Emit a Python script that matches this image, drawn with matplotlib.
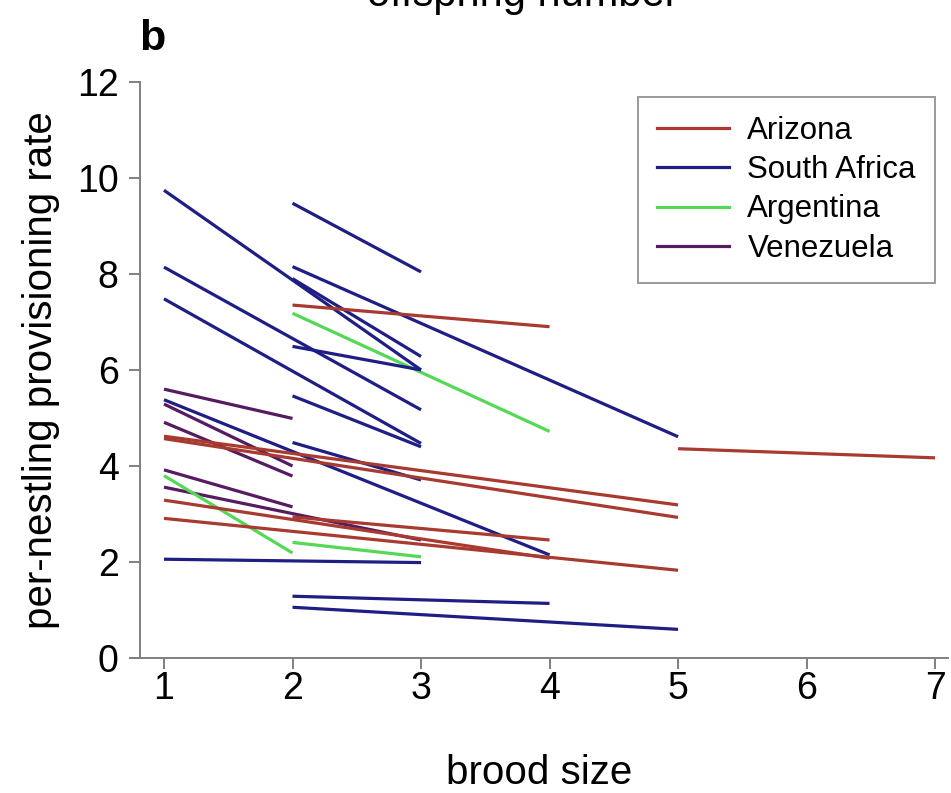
import matplotlib
matplotlib.use("Agg")
import matplotlib.pyplot as plt
from matplotlib.lines import Line2D

plt.rcParams['font.family'] = ['Liberation Sans', 'DejaVu Sans']

# ── data: each segment runs (x0, y0) -> (x1, y1) ──
arizona_x0 = [2, 5, 1, 1, 1, 1, 2]
arizona_x1 = [4, 7, 5, 5, 4, 5, 4]
arizona_y0 = [7.35, 4.36, 4.62, 4.57, 3.29, 2.91, 2.94]
arizona_y1 = [6.90, 4.17, 3.19, 2.93, 2.08, 1.83, 2.46]

safrica_x0 = [1, 2, 1, 1, 2, 1, 2, 1, 2, 2, 2, 2, 2]
safrica_x1 = [3, 3, 3, 3, 3, 4, 3, 3, 4, 5, 3, 5, 3]
safrica_y0 = [9.74, 7.90, 8.14, 7.48, 5.46, 5.38, 4.49, 2.06, 1.29, 1.06, 9.47, 8.15, 6.49]
safrica_y1 = [6.00, 6.28, 5.17, 4.47, 4.40, 2.15, 3.71, 1.99, 1.14, 0.60, 8.04, 4.61, 6.00]

argentina_x0 = [2, 1, 2]
argentina_x1 = [4, 2, 3]
argentina_y0 = [7.18, 3.80, 2.41]
argentina_y1 = [4.72, 2.19, 2.11]

venezuela_x0 = [1, 1, 1, 1, 1]
venezuela_x1 = [2, 2, 2, 2, 3]
venezuela_y0 = [5.60, 5.29, 4.91, 3.92, 3.56]
venezuela_y1 = [4.99, 4.00, 3.79, 3.15, 2.46]

groups = [
    ("Arizona",      "#a83a30", arizona_x0, arizona_x1, arizona_y0, arizona_y1),
    ("South Africa", "#1e1e84", safrica_x0, safrica_x1, safrica_y0, safrica_y1),
    ("Argentina",    "#55d855", argentina_x0, argentina_x1, argentina_y0, argentina_y1),
    ("Venezuela",    "#561b60", venezuela_x0, venezuela_x1, venezuela_y0, venezuela_y1),
]

fig = plt.figure(figsize=(9.51, 7.93), dpi=100)
ax = fig.add_axes([0.1373, 0.170, 0.8595, 0.727])

draw_order = [3, 2, 1, 0]
for gi in draw_order:
    name, col, x0, x1, y0, y1 = groups[gi]
    for a, b, c, d in zip(x0, x1, y0, y1):
        ax.plot([a, b], [c, d], color=col, lw=2.3, solid_capstyle='butt')

ax.set_xlim(0.74, 7.1)
ax.set_ylim(0, 12)

ax.spines['top'].set_visible(False)
ax.spines['right'].set_visible(False)
ax.spines['left'].set_position(('data', 0.81))
for s in ['left', 'bottom']:
    ax.spines[s].set_color('#808080')
    ax.spines[s].set_linewidth(1.4)

ax.set_xticks(range(1, 8))
ax.set_yticks(range(0, 13, 2))
ax.tick_params(axis='both', direction='out', length=8, width=1.4,
               color='#808080', labelsize=27)
ax.tick_params(axis='x', pad=1)
ax.tick_params(axis='y', pad=7)

ax.set_xlabel('brood size', fontsize=29, labelpad=34)
ax.set_ylabel('per-nestling provisioning rate', fontsize=29, labelpad=12)

handles = [Line2D([0], [0], color=g[1], lw=2.3) for g in groups]
leg = ax.legend(handles, [g[0] for g in groups],
                loc='upper left', bbox_to_anchor=(638 / 951, 1 - 97 / 793),
                bbox_transform=fig.transFigure, fontsize=22.5,
                frameon=True, fancybox=False, edgecolor='#808080',
                handlelength=2.3, handletextpad=0.6, labelspacing=0.3,
                borderpad=0.6, borderaxespad=0)
leg.get_frame().set_linewidth(1.4)

fig.text(152 / 951, 1 - 50 / 793, 'b', fontsize=31, fontweight='bold',
         ha='center', va='baseline')
fig.text(523 / 951, 1 - 6 / 793, 'offspring number', fontsize=30,
         ha='center', va='baseline')

fig.savefig('out.png', dpi=100)
